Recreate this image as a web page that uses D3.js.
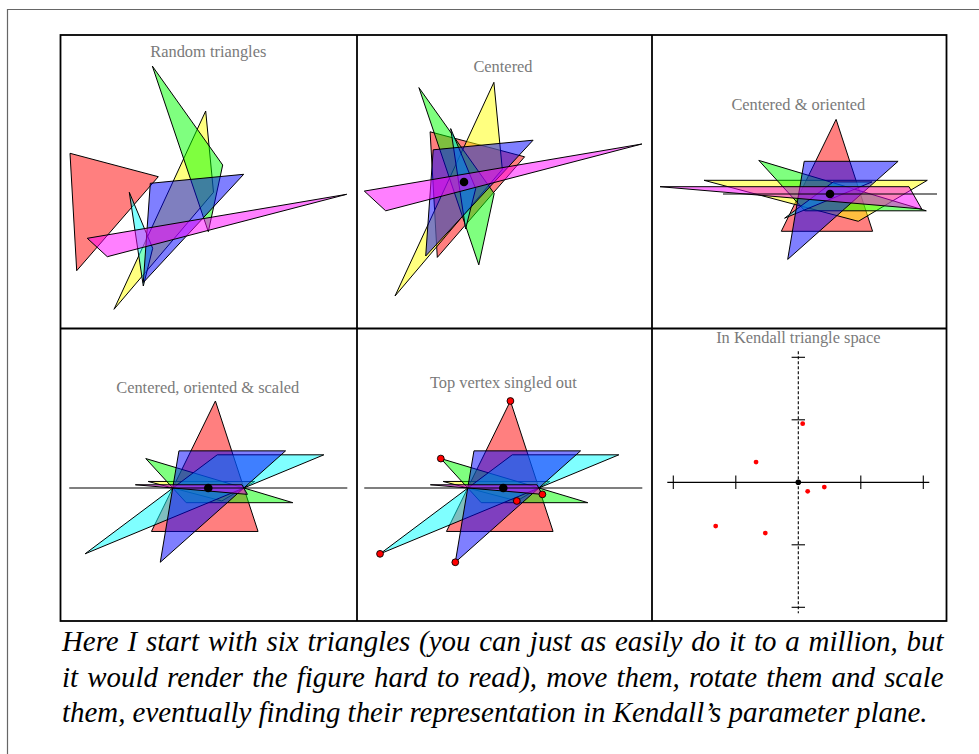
<!DOCTYPE html>
<html><head><meta charset="utf-8">
<script src="https://cdn.jsdelivr.net/npm/d3@7"></script>
<style>body{margin:0;background:#fff}svg{display:block}</style>
</head><body>
<svg id="c" width="979" height="754"></svg>
<script>
// ---------------- DATA ----------------
const triangleNames = ["red", "yellow", "green", "cyan", "blue", "magenta"];
// Panel 1: raw triangles
const rawTriangles = [
  [[0.095, 1.752], [0.978, 1.518], [0.162, 0.578]],
  [[1.452, 2.175], [0.535, 0.192], [1.530, 1.362]],
  [[0.918, 2.625], [1.622, 1.635], [1.478, 0.968]],
  [[0.688, 1.362], [0.922, 0.802], [0.828, 0.425]],
  [[0.898, 1.452], [1.832, 1.542], [0.828, 0.460]],
  [[0.268, 0.902], [2.862, 1.342], [0.468, 0.718]]
];
// Panel 2: centered
const centeredTriangles = [
  [[-0.339, 0.502], [0.606, 0.252], [-0.267, -0.754]],
  [[0.299, 0.997], [-0.690, -1.140], [0.383, 0.127]],
  [[-0.451, 0.944], [0.302, -0.115], [0.148, -0.829]],
  [[-0.133, 0.534], [0.117, -0.065], [0.016, -0.469]],
  [[-0.308, 0.322], [0.691, 0.418], [-0.383, -0.740]],
  [[-0.997, -0.091], [1.779, 0.380], [-0.783, -0.288]]
];
// Panel 3: centered & oriented (base vertices first, top vertex last)
const orientedTriangles = [
  [[-0.487, -0.373], [0.426, -0.373], [0.061, 0.746]],
  [[-1.260, 0.137], [0.973, 0.137], [0.283, -0.273]],
  [[-0.252, -0.168], [0.963, -0.168], [-0.712, 0.336]],
  [[0.033, 0.121], [0.421, 0.121], [-0.454, -0.242]],
  [[-0.258, 0.327], [0.681, 0.327], [-0.423, -0.654]],
  [[-1.700, 0.073], [0.790, 0.073], [0.917, -0.150]]
];
// Panels 4 & 5: centered, oriented & scaled
const scaledTriangles = [
  [[-0.533, -0.408], [0.467, -0.408], [0.067, 0.816]],
  [[-0.564, 0.061], [0.436, 0.061], [0.127, -0.122]],
  [[-0.207, -0.138], [0.793, -0.138], [-0.586, 0.276]],
  [[0.084, 0.311], [1.084, 0.311], [-1.156, -0.618]],
  [[-0.275, 0.348], [0.725, 0.348], [-0.450, -0.697]],
  [[-0.684, 0.030], [0.316, 0.030], [0.367, -0.060]]
];
// Panel 6: Kendall coordinates
const kendallX = [0.035, -0.338, 0.075, 0.208, -0.661, -0.264];
const kendallY = [0.469, 0.162, -0.072, -0.038, -0.350, -0.406];
const kendallTicks = [-1, -0.5, 0.5, 1];
const kendallAxisExtent = 1.048;
const refLineExtent3 = 1.07;
const refLineExtent45 = 1.304;

const panelTitles = ["Random triangles", "Centered", "Centered & oriented",
  "Centered, oriented & scaled", "Top vertex singled out", "In Kendall triangle space"];
const panelXDomains = [[0, 2.965], [-1.07, 1.88], [-1.78, 1.165], [-1.386, 1.395], [-1.372, 1.395], [-1.1704, 1.1856]];
const panelYDomains = [[0, 2.935], [-1.465, 1.47], [-1.345, 1.59], [-1.248, 1.496], [-1.248, 1.496], [-1.1096, 1.2304]];

const captionLines = [
  "Here I start with six triangles (you can just as easily do it to a million, but",
  "it would render the figure hard to read), move them, rotate them and scale",
  "them, eventually finding their representation in Kendall\u2019s parameter plane."
];

// ---------------- STYLE / LAYOUT ----------------
const fillColors = ["#ff0000", "#ffff00", "#00ff00", "#00ffff", "#0000ff", "#ff00ff"];
const colEdges = [60.5, 357, 652, 946.5];
const rowEdges = [35, 328.5, 621];
const titlePos = [[208.3, 56.7], [503, 72.4], [798.3, 110], [207.7, 392.7], [503.3, 388.4], [798.3, 343.3]];
const serif = "'Liberation Serif','Times New Roman',Times,serif";

const svg = d3.select("#c");
svg.append("rect").attr("x", 0).attr("y", 0).attr("width", 979).attr("height", 754).attr("fill", "#fff");
// page frame
svg.append("path").attr("d", "M7.5,754 V9.5 H979").attr("fill", "none").attr("stroke", "#666").attr("stroke-width", 1.2);

const triSets = [rawTriangles, centeredTriangles, orientedTriangles, scaledTriangles, scaledTriangles, null];

triSets.forEach((tris, p) => {
  const col = p % 3, row = Math.floor(p / 3);
  const x = d3.scaleLinear().domain(panelXDomains[p]).range([colEdges[col], colEdges[col + 1]]);
  const y = d3.scaleLinear().domain(panelYDomains[p]).range([rowEdges[row + 1], rowEdges[row]]);
  const g = svg.append("g");
  const line = d3.line().x(d => x(d[0])).y(d => y(d[1]));

  if (tris) {
    g.selectAll("path.tri").data(tris).join("path")
      .attr("class", "tri")
      .attr("d", d => line(d) + "Z")
      .attr("fill", (d, i) => fillColors[i])
      .attr("fill-opacity", 0.5)
      .attr("stroke", "#000")
      .attr("stroke-width", 1)
      .attr("stroke-linejoin", "miter");
  }
  if (p >= 2 && p <= 4) {
    const e = p === 2 ? refLineExtent3 : refLineExtent45;
    g.append("line").attr("x1", x(-e)).attr("x2", x(e)).attr("y1", y(0)).attr("y2", y(0))
      .attr("stroke", "#000").attr("stroke-width", 1.1);
  }
  if (p >= 1 && p <= 4) {
    g.append("circle").attr("cx", x(0)).attr("cy", y(0)).attr("r", 4.3).attr("fill", "#000");
  }
  if (p === 4) {
    g.selectAll("circle.top").data(tris).join("circle").attr("class", "top")
      .attr("cx", d => x(d[2][0])).attr("cy", d => y(d[2][1])).attr("r", 3.4)
      .attr("fill", "#ff0000").attr("stroke", "#000").attr("stroke-width", 0.9);
  }
  if (p === 5) {
    const e = kendallAxisExtent;
    g.append("line").attr("x1", x(-e)).attr("x2", x(e)).attr("y1", y(0)).attr("y2", y(0))
      .attr("stroke", "#000").attr("stroke-width", 1.2);
    g.append("line").attr("x1", x(0)).attr("x2", x(0)).attr("y1", y(e)).attr("y2", y(-e))
      .attr("stroke", "#000").attr("stroke-width", 1.1).attr("stroke-dasharray", "3,2");
    g.selectAll("line.xt").data(kendallTicks).join("line").attr("class", "xt")
      .attr("x1", d => x(d)).attr("x2", d => x(d)).attr("y1", y(0) - 6.7).attr("y2", y(0) + 6.7)
      .attr("stroke", "#000").attr("stroke-width", 1.1);
    g.selectAll("line.yt").data(kendallTicks).join("line").attr("class", "yt")
      .attr("y1", d => y(d)).attr("y2", d => y(d)).attr("x1", x(0) - 6.7).attr("x2", x(0) + 6.7)
      .attr("stroke", "#000").attr("stroke-width", 1.1);
    g.selectAll("circle.k").data(kendallX).join("circle").attr("class", "k")
      .attr("cx", d => x(d)).attr("cy", (d, i) => y(kendallY[i])).attr("r", 2.4).attr("fill", "#ff0000");
    g.append("circle").attr("cx", x(0)).attr("cy", y(0)).attr("r", 2.8).attr("fill", "#000");
  }
  g.append("text").attr("x", titlePos[p][0]).attr("y", titlePos[p][1])
    .attr("text-anchor", "middle").attr("font-family", serif).attr("font-size", 16.4)
    .attr("fill", "#7a7a7a").text(panelTitles[p]);
});

// panel grid
const grid = svg.append("g").attr("fill", "none").attr("stroke", "#000").attr("stroke-width", 1.8);
grid.append("rect").attr("x", colEdges[0]).attr("y", rowEdges[0])
  .attr("width", colEdges[3] - colEdges[0]).attr("height", rowEdges[2] - rowEdges[0]);
[colEdges[1], colEdges[2]].forEach(cx => grid.append("line").attr("x1", cx).attr("x2", cx).attr("y1", rowEdges[0]).attr("y2", rowEdges[2]));
grid.append("line").attr("x1", colEdges[0]).attr("x2", colEdges[3]).attr("y1", rowEdges[1]).attr("y2", rowEdges[1]);

// caption (justified; last line at natural width)
const capX = 62, capW = [881.5, 881.5, 866], capY = [651, 687, 722];
const probe = svg.append("text").attr("font-family", serif).attr("font-style", "italic")
  .attr("font-size", 25).text(captionLines[2]);
const capSize = 25 * capW[2] / probe.node().getComputedTextLength();
probe.remove();
captionLines.forEach((t, i) => {
  const txt = svg.append("text").attr("x", capX).attr("y", capY[i])
    .attr("font-family", serif).attr("font-style", "italic").attr("font-size", capSize)
    .attr("fill", "#000").text(t);
  if (i < 2) {
    const nat = txt.node().getComputedTextLength();
    const spaces = t.split(" ").length - 1;
    txt.attr("word-spacing", (capW[i] - nat) / spaces);
  }
});
</script>
</body></html>
